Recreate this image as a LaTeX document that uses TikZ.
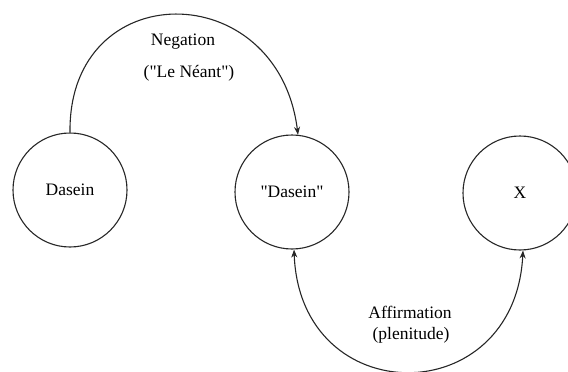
\documentclass[tikz,border=0pt]{standalone}
\usepackage{fontspec}
\setmainfont{Liberation Serif}[Ligatures=TeXOff]
\usetikzlibrary{arrows.meta}
\begin{document}
\begin{tikzpicture}[x=1pt,y=-1pt,
  state/.style={circle,draw=black!85,line width=1.1pt,minimum size=114pt,inner sep=0pt,font=\fontsize{17.5}{20}\selectfont},
  conn/.style={draw=black!85,line width=1.1pt},
  tip/.style={Stealth[length=8pt,width=6pt]},
  lbl/.style={font=\fontsize{17.5}{20}\selectfont,align=center}]
\useasboundingbox (0,0) rectangle (568,372);
\node[state] (a) at (70,190) {Dasein};
\node[state] (b) at (292,192) {"Dasein"};
\node[state] (c) at (520,193) {X};
\draw[conn,-{Stealth[length=8pt,width=6pt]}] (a.north) .. controls (68,-25) and (278,-25) .. (b.84);
\draw[conn,{Stealth[length=8pt,width=6pt]}-{Stealth[length=8pt,width=6pt]}] (b.-88) .. controls (300,412) and (515,412) .. (c.-87);
\node[lbl] (n1) at (183,42) {Negation};
\node[lbl] (n2) at (189,73) {("Le Néant")};
\node[lbl] (n3) at (410,312) {Affirmation};
\node[lbl] (n4) at (411,335) {(plenitude)};
\end{tikzpicture}
\end{document}
